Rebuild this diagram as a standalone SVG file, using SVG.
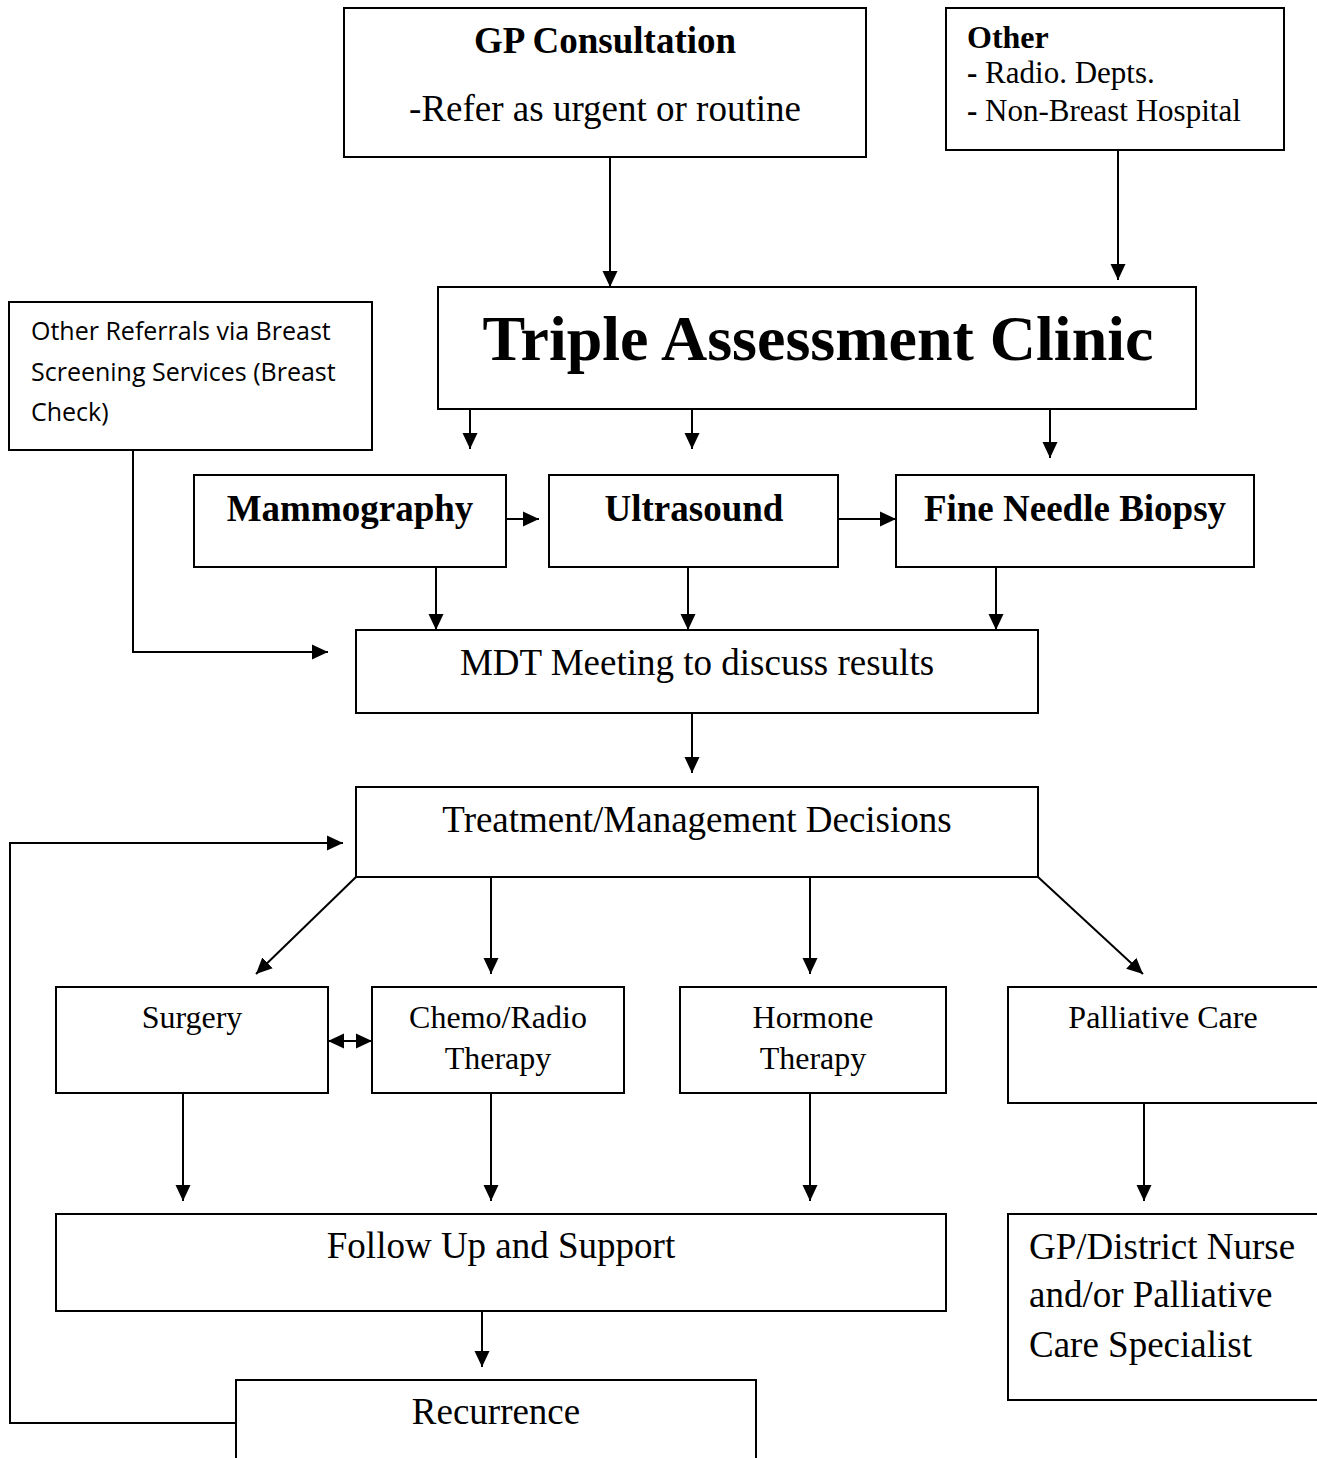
<svg xmlns="http://www.w3.org/2000/svg" width="1317" height="1458" viewBox="0 0 1317 1458">
<style>
.box{fill:#fff;stroke:#000;stroke-width:2}
.t{font-family:"Liberation Serif","Times New Roman",serif;fill:#000}
.b{font-weight:bold}
.c{text-anchor:middle}
.s{font-family:"Open Sans","Liberation Sans",sans-serif;fill:#000}
.ln{fill:none;stroke:#000;stroke-width:2}
</style>
<defs>
<marker id="ah" viewBox="0 0 16 16" refX="16" refY="8" markerWidth="16" markerHeight="16" markerUnits="userSpaceOnUse" orient="auto-start-reverse">
<path d="M0,0.5 L16,8 L0,15.5 Z" fill="#000"/>
</marker>
</defs>
<rect width="1317" height="1458" fill="#fff"/>
<g id="connectors">
<path class="ln" d="M610,157 V287" marker-end="url(#ah)"/>
<path class="ln" d="M1118,150 V280" marker-end="url(#ah)"/>
<path class="ln" d="M470,409 V449" marker-end="url(#ah)"/>
<path class="ln" d="M692,409 V449" marker-end="url(#ah)"/>
<path class="ln" d="M1050,409 V458" marker-end="url(#ah)"/>
<path class="ln" d="M506,519 H539" marker-end="url(#ah)"/>
<path class="ln" d="M838,519 H896" marker-end="url(#ah)"/>
<path class="ln" d="M436,567 V630" marker-end="url(#ah)"/>
<path class="ln" d="M688,567 V630" marker-end="url(#ah)"/>
<path class="ln" d="M996,567 V630" marker-end="url(#ah)"/>
<path class="ln" d="M133,450 V652 H328" marker-end="url(#ah)"/>
<path class="ln" d="M692,713 V773" marker-end="url(#ah)"/>
<path class="ln" d="M236,1423 H10 V843 H343" marker-end="url(#ah)"/>
<path class="ln" d="M356,877 L256,974" marker-end="url(#ah)"/>
<path class="ln" d="M491,877 V974" marker-end="url(#ah)"/>
<path class="ln" d="M810,877 V974" marker-end="url(#ah)"/>
<path class="ln" d="M1038,877 L1143,974" marker-end="url(#ah)"/>
<path class="ln" d="M328,1041 H372" marker-start="url(#ah)" marker-end="url(#ah)"/>
<path class="ln" d="M183,1093 V1201" marker-end="url(#ah)"/>
<path class="ln" d="M491,1093 V1201" marker-end="url(#ah)"/>
<path class="ln" d="M810,1093 V1201" marker-end="url(#ah)"/>
<path class="ln" d="M1144,1103 V1201" marker-end="url(#ah)"/>
<path class="ln" d="M482,1311 V1367" marker-end="url(#ah)"/>
</g>
<g id="gp">
<rect class="box" x="344" y="8" width="522" height="149"/>
<text class="t b c" x="605" y="53" font-size="37">GP Consultation</text>
<text class="t c" x="605" y="121" font-size="37">-Refer as urgent or routine</text>
</g>
<g id="other">
<rect class="box" x="946" y="8" width="338" height="142"/>
<text class="t b" x="967" y="48" font-size="32">Other</text>
<text class="t" x="967" y="83" font-size="31"><tspan font-weight="bold">-</tspan> Radio. Depts.</text>
<text class="t" x="967" y="121" font-size="31"><tspan font-weight="bold">-</tspan> Non-Breast Hospital</text>
</g>
<g id="triple">
<rect class="box" x="438" y="287" width="758" height="122"/>
<text class="t b c" x="818" y="360" font-size="64">Triple Assessment Clinic</text>
</g>
<g id="otherref">
<rect class="box" x="9" y="302" width="363" height="148"/>
<text class="s" x="31" y="340" font-size="25">Other Referrals via Breast</text>
<text class="s" x="31" y="381" font-size="25">Screening Services (Breast</text>
<text class="s" x="31" y="421" font-size="25">Check)</text>
</g>
<g id="mammo">
<rect class="box" x="194" y="475" width="312" height="92"/>
<text class="t b c" x="350" y="521" font-size="37">Mammography</text>
</g>
<g id="ultra">
<rect class="box" x="549" y="475" width="289" height="92"/>
<text class="t b c" x="694" y="521" font-size="37">Ultrasound</text>
</g>
<g id="fnb">
<rect class="box" x="896" y="475" width="358" height="92"/>
<text class="t b c" x="1075" y="521" font-size="37">Fine Needle Biopsy</text>
</g>
<g id="mdt">
<rect class="box" x="356" y="630" width="682" height="83"/>
<text class="t c" x="697" y="675" font-size="37">MDT Meeting to discuss results</text>
</g>
<g id="treatment">
<rect class="box" x="356" y="787" width="682" height="90"/>
<text class="t c" x="697" y="832" font-size="37">Treatment/Management Decisions</text>
</g>
<g id="surgery">
<rect class="box" x="56" y="987" width="272" height="106"/>
<text class="t c" x="192" y="1028" font-size="32">Surgery</text>
</g>
<g id="chemo">
<rect class="box" x="372" y="987" width="252" height="106"/>
<text class="t c" x="498" y="1028" font-size="32">Chemo/Radio</text>
<text class="t c" x="498" y="1069" font-size="32">Therapy</text>
</g>
<g id="hormone">
<rect class="box" x="680" y="987" width="266" height="106"/>
<text class="t c" x="813" y="1028" font-size="32">Hormone</text>
<text class="t c" x="813" y="1069" font-size="32">Therapy</text>
</g>
<g id="palliative">
<rect class="box" x="1008" y="987" width="320" height="116"/>
<text class="t c" x="1163" y="1028" font-size="32">Palliative Care</text>
</g>
<g id="followup">
<rect class="box" x="56" y="1214" width="890" height="97"/>
<text class="t c" x="501" y="1258" font-size="37">Follow Up and Support</text>
</g>
<g id="gpnurse">
<rect class="box" x="1008" y="1214" width="320" height="186"/>
<text class="t" x="1029" y="1259" font-size="37">GP/District Nurse</text>
<text class="t" x="1029" y="1307" font-size="37">and/or Palliative</text>
<text class="t" x="1029" y="1357" font-size="37">Care Specialist</text>
</g>
<g id="recurrence">
<rect class="box" x="236" y="1380" width="520" height="100"/>
<text class="t c" x="496" y="1424" font-size="37">Recurrence</text>
</g>
</svg>
